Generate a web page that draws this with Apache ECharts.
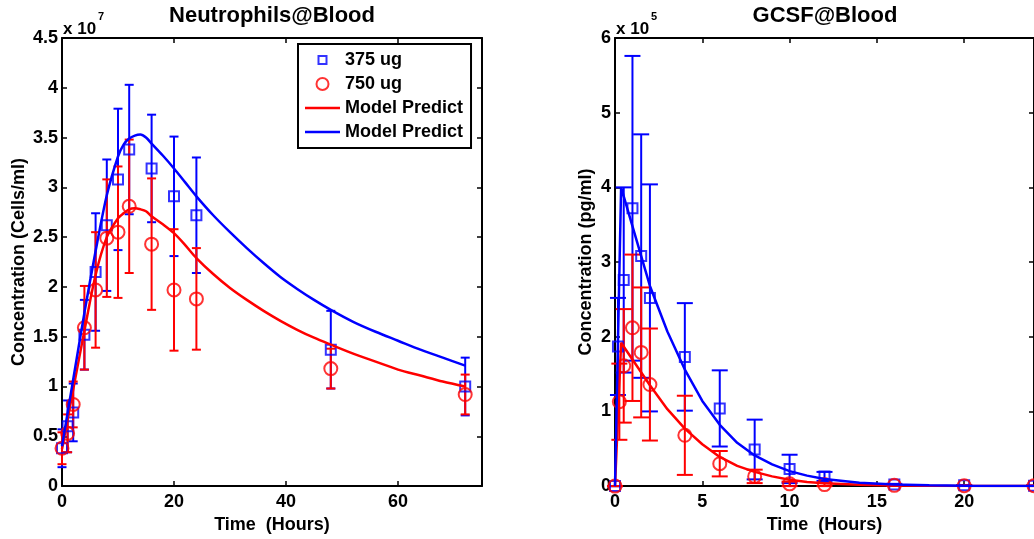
<!DOCTYPE html>
<html><head><meta charset="utf-8">
<script src="https://cdn.jsdelivr.net/npm/echarts@6/dist/echarts.min.js"></script>
<style>html,body{margin:0;padding:0;background:#fff}#c{width:1034px;height:539px}</style>
</head><body><div id="c"></div>
<script>
// ---------- Neutrophils@Blood (values in units of 1e7 cells/ml) ----------
const neutTimes = [0, 1, 2, 4, 6, 8, 10, 12, 16, 20, 24, 48, 72];
const neut375 = [0.38, 0.60, 0.74, 1.52, 2.15, 2.62, 3.08, 3.38, 3.19, 2.91, 2.72, 1.37, 1.00];
const neut375Err = [0.19, 0.26, 0.29, 0.35, 0.59, 0.66, 0.71, 0.65, 0.54, 0.60, 0.58, 0.39, 0.29];
const neut750 = [0.38, 0.53, 0.82, 1.59, 1.97, 2.49, 2.55, 2.81, 2.43, 1.97, 1.88, 1.18, 0.92];
const neut750Err = [0.16, 0.19, 0.23, 0.42, 0.58, 0.59, 0.66, 0.67, 0.66, 0.61, 0.51, 0.20, 0.20];
const neutModelTimes = [0, 2, 4, 6, 8, 10, 11, 12, 13, 14, 15, 16, 18, 20, 22, 24, 27, 30, 33, 36, 39, 42, 45, 48, 52, 56, 60, 64, 68, 72];
const neutModel375 = [0.40, 1.07, 1.74, 2.36, 2.92, 3.31, 3.43, 3.49, 3.52, 3.53, 3.50, 3.44, 3.32, 3.19, 3.05, 2.91, 2.72, 2.55, 2.39, 2.24, 2.10, 1.98, 1.87, 1.77, 1.65, 1.55, 1.46, 1.37, 1.29, 1.21];
const neutModel750 = [0.37, 0.97, 1.56, 2.12, 2.50, 2.69, 2.74, 2.78, 2.79, 2.78, 2.76, 2.71, 2.63, 2.54, 2.42, 2.29, 2.13, 1.99, 1.87, 1.76, 1.66, 1.57, 1.49, 1.42, 1.33, 1.25, 1.17, 1.11, 1.05, 1.00];

// ---------- GCSF@Blood (values in units of 1e5 pg/ml) ----------
const gcsfTimes375 = [0, 0.17, 0.5, 1, 1.5, 2, 4, 6, 8, 10, 12, 16, 20, 24];
const gcsf375 = [0, 1.87, 2.76, 3.72, 3.08, 2.52, 1.73, 1.04, 0.49, 0.23, 0.13, 0.02, 0.01, 0.005];
const gcsf375Err = [0, 0.65, 1.24, 2.04, 1.63, 1.52, 0.72, 0.51, 0.40, 0.19, 0.06, 0.01, 0.005, 0.003];
const gcsfTimes750 = [0, 0.25, 0.5, 1, 1.5, 2, 4, 6, 8, 10, 12, 16, 20, 24];
const gcsf750 = [0, 1.13, 1.61, 2.12, 1.79, 1.36, 0.68, 0.30, 0.13, 0.03, 0.02, 0.01, 0.005, 0.005];
const gcsf750Err = [0, 0.51, 0.76, 0.98, 0.87, 0.75, 0.53, 0.17, 0.09, 0.03, 0.02, 0.005, 0.003, 0.003];
const gcsfModelTimes = [0, 0.35, 2, 3, 4, 5, 6, 7, 8, 9, 10, 11, 12, 14, 16, 18, 20, 22, 24];
const gcsfModel375 = [0, 4.00, 2.68, 2.07, 1.56, 1.14, 0.82, 0.58, 0.41, 0.29, 0.20, 0.14, 0.095, 0.045, 0.02, 0.01, 0.005, 0.002, 0.001];
const gcsfModel750 = [0, 1.92, 1.35, 1.03, 0.77, 0.56, 0.39, 0.27, 0.19, 0.13, 0.085, 0.055, 0.037, 0.018, 0.008, 0.004, 0.002, 0.001, 0];

// ---------- tick labels ----------
const neutXTicks = [0, 20, 40, 60];
const neutYTicks = [0, 0.5, 1, 1.5, 2, 2.5, 3, 3.5, 4, 4.5];
const gcsfXTicks = [0, 5, 10, 15, 20];
const gcsfYTicks = [0, 1, 2, 3, 4, 5, 6];

const BLUE = '#0000ff', RED = '#ff0000';
const FONT = '"Liberation Sans", Arial, Helvetica, sans-serif';
const labelStyle = {color: '#000', fontWeight: 'bold', fontSize: 18, fontFamily: FONT};

const zip = (a, b) => a.map((v, i) => [v, b[i]]);
const errData = (t, v, e) => t.map((x, i) => [x, v[i] - e[i], v[i] + e[i]]);

function errRender(halfCap, color) {
  return function (params, api) {
    const x = api.value(0), lo = api.value(1), hi = api.value(2);
    const pLo = api.coord([x, lo]), pHi = api.coord([x, hi]);
    const st = {stroke: color, lineWidth: 2, fill: null};
    return {type: 'group', children: [
      {type: 'line', shape: {x1: pLo[0], y1: pLo[1], x2: pHi[0], y2: pHi[1]}, style: st},
      {type: 'line', shape: {x1: pLo[0] - halfCap, y1: pLo[1], x2: pLo[0] + halfCap, y2: pLo[1]}, style: st},
      {type: 'line', shape: {x1: pHi[0] - halfCap, y1: pHi[1], x2: pHi[0] + halfCap, y2: pHi[1]}, style: st}
    ]};
  };
}

function xAxis(grid, max, interval, ticks, pos) {
  const bottom = pos === 'bottom';
  return {
    type: 'value', gridIndex: grid, min: 0, max: max, interval: interval, position: pos,
    axisLine: {show: true, onZero: false, lineStyle: {color: '#000', width: 2}},
    axisTick: {show: true, inside: true, length: 5, lineStyle: {color: '#000', width: 1.5},
      customValues: ticks},
    axisLabel: {show: bottom, margin: 7, ...labelStyle, customValues: ticks,
      formatter: v => ticks.indexOf(v) >= 0 ? String(v) : ''},
    splitLine: {show: false},
    name: bottom ? 'Time  (Hours)' : '', nameLocation: 'middle', nameGap: 24,
    nameTextStyle: labelStyle
  };
}
function yAxis(grid, max, interval, ticks, pos, name, gap) {
  const left = pos === 'left';
  return {
    type: 'value', gridIndex: grid, min: 0, max: max, interval: interval, position: pos,
    axisLine: {show: true, onZero: false, lineStyle: {color: '#000', width: 2}},
    axisTick: {show: true, inside: true, length: 5, lineStyle: {color: '#000', width: 1.5}},
    axisLabel: {show: left, margin: 4, ...labelStyle,
      formatter: v => ticks.indexOf(v) >= 0 ? String(v) : ''},
    splitLine: {show: false},
    name: left ? name : '', nameLocation: 'middle', nameGap: gap, nameRotate: 90,
    nameTextStyle: labelStyle
  };
}

const LINE_ICON = 'path://M0,0 L35,0 L35,2.5 L0,2.5 Z';
const SQUARE_ICON = 'path://M0,0 M12,12 M2,2 L10,2 L10,10 L2,10 Z';

const chart = echarts.init(document.getElementById('c'), null, {renderer: 'canvas'});
chart.setOption({
  animation: false,
  backgroundColor: '#fff',
  grid: [
    {left: 62, top: 38, width: 420, height: 453},
    {left: 615, top: 38, width: 420, height: 453}
  ],
  xAxis: [
    xAxis(0, 75, 20, neutXTicks, 'bottom'),
    xAxis(0, 75, 20, neutXTicks, 'top'),
    xAxis(1, 24, 5, gcsfXTicks, 'bottom'),
    xAxis(1, 24, 5, gcsfXTicks, 'top')
  ],
  yAxis: [
    yAxis(0, 4.5, 0.5, neutYTicks, 'left', 'Concentration (Cells/ml)', 34),
    yAxis(0, 4.5, 0.5, neutYTicks, 'right', '', 0),
    yAxis(1, 6, 1, gcsfYTicks, 'left', 'Concentration (pg/ml)', 20),
    yAxis(1, 6, 1, gcsfYTicks, 'right', '', 0)
  ],
  legend: {
    data: [
      {name: '375 ug', icon: SQUARE_ICON},
      {name: '750 ug', icon: 'circle'},
      {name: 'Model Predict', icon: LINE_ICON},
      {name: 'Model Predict ', icon: LINE_ICON}
    ],
    orient: 'vertical', left: 298, top: 44,
    padding: [4, 8, 4, 7], itemGap: 0, itemWidth: 35, itemHeight: 12,
    backgroundColor: '#fff', borderColor: '#000', borderWidth: 2, borderRadius: 0,
    textStyle: {...labelStyle, lineHeight: 24, padding: [0, 0, 0, 0]},
    formatter: n => n.trim(),
    selectedMode: false
  },
  graphic: [
    {type: 'text', x: 272, y: 5, style: {text: 'Neutrophils@Blood', font: 'bold 22px ' + FONT, fill: '#000', textAlign: 'center', align: 'center', textVerticalAlign: 'top', verticalAlign: 'top'}},
    {type: 'text', x: 825, y: 5, style: {text: 'GCSF@Blood', font: 'bold 22px ' + FONT, fill: '#000', textAlign: 'center', align: 'center', textVerticalAlign: 'top', verticalAlign: 'top'}},
    {type: 'text', x: 63, y: 21, style: {text: 'x 10', font: 'bold 17px ' + FONT, fill: '#000'}},
    {type: 'text', x: 98, y: 11, style: {text: '7', font: 'bold 11px ' + FONT, fill: '#000'}},
    {type: 'text', x: 616, y: 21, style: {text: 'x 10', font: 'bold 17px ' + FONT, fill: '#000'}},
    {type: 'text', x: 651, y: 11, style: {text: '5', font: 'bold 11px ' + FONT, fill: '#000'}}
  ],
  series: [
    // ---- left plot ----
    {type: 'custom', name: 'err375', xAxisIndex: 0, yAxisIndex: 0, renderItem: errRender(4.5, BLUE),
      data: errData(neutTimes, neut375, neut375Err), encode: {x: 0, y: [1, 2]}, silent: true},
    {type: 'scatter', name: '375 ug', xAxisIndex: 0, yAxisIndex: 0, symbol: 'rect', symbolSize: 10,
      itemStyle: {color: 'rgba(0,0,0,0)', borderColor: BLUE, borderWidth: 2}, data: zip(neutTimes, neut375)},
    {type: 'custom', name: 'err750', xAxisIndex: 0, yAxisIndex: 0, renderItem: errRender(4.5, RED),
      data: errData(neutTimes, neut750, neut750Err), encode: {x: 0, y: [1, 2]}, silent: true},
    {type: 'scatter', name: '750 ug', xAxisIndex: 0, yAxisIndex: 0, symbol: 'circle', symbolSize: 13,
      itemStyle: {color: 'rgba(0,0,0,0)', borderColor: RED, borderWidth: 2}, data: zip(neutTimes, neut750)},
    {type: 'line', name: 'Model Predict', xAxisIndex: 0, yAxisIndex: 0, symbol: 'none', smooth: 0.3,
      itemStyle: {color: RED}, lineStyle: {color: RED, width: 2.5}, data: zip(neutModelTimes, neutModel750)},
    {type: 'line', name: 'Model Predict ', xAxisIndex: 0, yAxisIndex: 0, symbol: 'none', smooth: 0.3,
      itemStyle: {color: BLUE}, lineStyle: {color: BLUE, width: 2.5}, data: zip(neutModelTimes, neutModel375)},
    // ---- right plot ----
    {type: 'custom', name: 'gerr375', xAxisIndex: 2, yAxisIndex: 2, renderItem: errRender(8, BLUE),
      data: errData(gcsfTimes375, gcsf375, gcsf375Err), encode: {x: 0, y: [1, 2]}, silent: true},
    {type: 'scatter', name: 'g375', xAxisIndex: 2, yAxisIndex: 2, symbol: 'rect', symbolSize: 10,
      itemStyle: {color: 'rgba(0,0,0,0)', borderColor: BLUE, borderWidth: 2}, data: zip(gcsfTimes375, gcsf375)},
    {type: 'custom', name: 'gerr750', xAxisIndex: 2, yAxisIndex: 2, renderItem: errRender(8, RED),
      data: errData(gcsfTimes750, gcsf750, gcsf750Err), encode: {x: 0, y: [1, 2]}, silent: true},
    {type: 'scatter', name: 'g750', xAxisIndex: 2, yAxisIndex: 2, symbol: 'circle', symbolSize: 13,
      itemStyle: {color: 'rgba(0,0,0,0)', borderColor: RED, borderWidth: 2}, data: zip(gcsfTimes750, gcsf750)},
    {type: 'line', name: 'gModel750', xAxisIndex: 2, yAxisIndex: 2, symbol: 'none',
      lineStyle: {color: RED, width: 2.5}, itemStyle: {color: RED}, data: zip(gcsfModelTimes, gcsfModel750)},
    {type: 'line', name: 'gModel375', xAxisIndex: 2, yAxisIndex: 2, symbol: 'none',
      lineStyle: {color: BLUE, width: 2.5}, itemStyle: {color: BLUE}, data: zip(gcsfModelTimes, gcsfModel375)}
  ]
});
</script>
</body></html>
